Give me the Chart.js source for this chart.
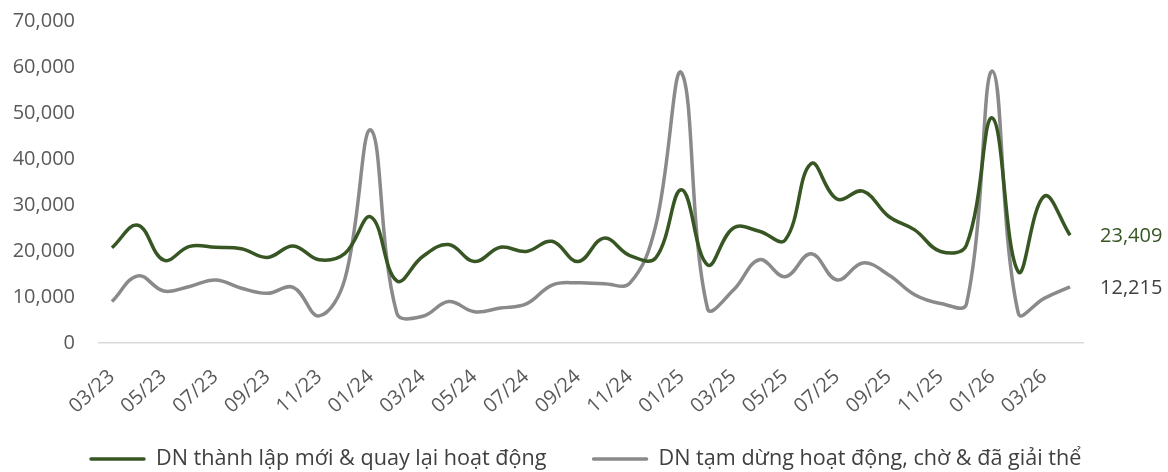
<!DOCTYPE html>
<html>
<head>
<meta charset="utf-8">
<script src="https://cdn.jsdelivr.net/npm/chart.js@4"></script>
<style>
  html, body { margin: 0; padding: 0; background: #ffffff; }
  #wrap { width: 1168px; height: 472px; position: relative; }
</style>
</head>
<body>
<div id="wrap"><canvas id="c" width="1168" height="472"></canvas></div>
<script>
const months = ["03/23","04/23","05/23","06/23","07/23","08/23","09/23","10/23","11/23","12/23",
  "01/24","02/24","03/24","04/24","05/24","06/24","07/24","08/24","09/24","10/24","11/24","12/24",
  "01/25","02/25","03/25","04/25","05/25","06/25","07/25","08/25","09/25","10/25","11/25","12/25",
  "01/26","02/26","03/26","04/26"];

const newFirms = [20700, 25600, 18000, 21000, 20800, 20500, 18600, 21100, 18100, 19500,
  27400, 13500, 18800, 21400, 17700, 20800, 19900, 22100, 17700, 22800, 19000, 18500,
  33300, 17000, 25000, 24300, 22400, 39000, 31300, 33000, 27500, 24600, 19900, 21300,
  48900, 15500, 31900, 23409];

const exitFirms = [9000, 14600, 11300, 12300, 13700, 11900, 10800, 12100, 5900, 14000,
  46300, 6500, 5800, 9000, 6800, 7600, 8500, 12600, 13100, 12900, 13000, 25500,
  58700, 7500, 11500, 18100, 14400, 19400, 13700, 17400, 14800, 10500, 8600, 8500,
  59100, 6500, 9700, 12215];

const seriesNames = ["DN thành lập mới & quay lại hoạt động", "DN tạm dừng hoạt động, chờ & đã giải thể"];
const yTicks = [0, 10000, 20000, 30000, 40000, 50000, 60000, 70000];

const GREEN = "#375623";
const GREY = "#8a8a8a";
const FONT = "'Open Sans', 'Noto Sans', sans-serif";
const fmt = v => v.toLocaleString("en-US");

const endLabels = {
  id: "endLabels",
  afterDatasetsDraw(chart) {
    const ctx = chart.ctx;
    const colors = [GREEN, "#404040"];
    chart.data.datasets.forEach((ds, i) => {
      const meta = chart.getDatasetMeta(i);
      const pt = meta.data[meta.data.length - 1];
      ctx.save();
      ctx.font = "20px " + FONT;
      ctx.fillStyle = colors[i];
      ctx.textAlign = "left";
      ctx.textBaseline = "middle";
      ctx.fillText(fmt(ds.data[ds.data.length - 1]), pt.x + 30, pt.y + 1);
      ctx.restore();
    });
  }
};

const bottomLegend = {
  id: "bottomLegend",
  afterDraw(chart) {
    const ctx = chart.ctx;
    ctx.save();
    ctx.font = "21.6px " + FONT;
    ctx.textBaseline = "middle";
    ctx.textAlign = "left";
    let x = 91;
    const y = 459;
    chart.data.datasets.forEach((ds, i) => {
      ctx.strokeStyle = ds.borderColor;
      ctx.lineWidth = 3.5;
      ctx.lineCap = "round";
      ctx.beginPath();
      ctx.moveTo(x, y);
      ctx.lineTo(x + 53, y);
      ctx.stroke();
      ctx.fillStyle = "#404040";
      ctx.fillText(ds.label, x + 65, y);
      x = x + 65 + ctx.measureText(ds.label).width + 47;
    });
    ctx.restore();
  }
};

new Chart(document.getElementById("c"), {
  type: "line",
  data: {
    labels: months,
    datasets: [
      { label: seriesNames[0], data: newFirms, borderColor: GREEN, backgroundColor: GREEN,
        borderWidth: 3.5, pointRadius: 0, tension: 0.4, fill: false },
      { label: seriesNames[1], data: exitFirms, borderColor: GREY, backgroundColor: GREY,
        borderWidth: 3.5, pointRadius: 0, tension: 0.4, fill: false }
    ]
  },
  options: {
    responsive: false,
    animation: false,
    devicePixelRatio: 1,
    layout: { padding: { left: 0, right: 85, top: 21, bottom: 50 } },
    plugins: { legend: { display: false }, tooltip: { enabled: false } },
    scales: {
      x: {
        offset: true,
        grid: { display: false, drawTicks: false },
        border: { display: true, color: "#d9d9d9", width: 1.5 },
        ticks: {
          autoSkip: false,
          minRotation: 42, maxRotation: 42,
          padding: 22,
          color: "#595959",
          font: { family: FONT, size: 20 },
          callback: function(v, i) { return i % 2 === 0 ? months[i] : ""; }
        },
        afterFit: s => { s.height = 79; s.paddingLeft = 0; s.paddingRight = 0; s.paddingTop = 0; s.paddingBottom = 0; }
      },
      y: {
        min: 0, max: 70000,
        afterBuildTicks: s => { s.ticks = yTicks.map(v => ({ value: v })); },
        grid: { display: false, drawTicks: false },
        border: { display: false },
        ticks: {
          padding: 24,
          color: "#595959",
          font: { family: FONT, size: 20 },
          callback: v => fmt(v)
        },
        afterFit: s => { s.width = 99; s.paddingTop = 0; s.paddingBottom = 0; }
      }
    }
  },
  plugins: [endLabels, bottomLegend]
});
</script>
</body>
</html>
